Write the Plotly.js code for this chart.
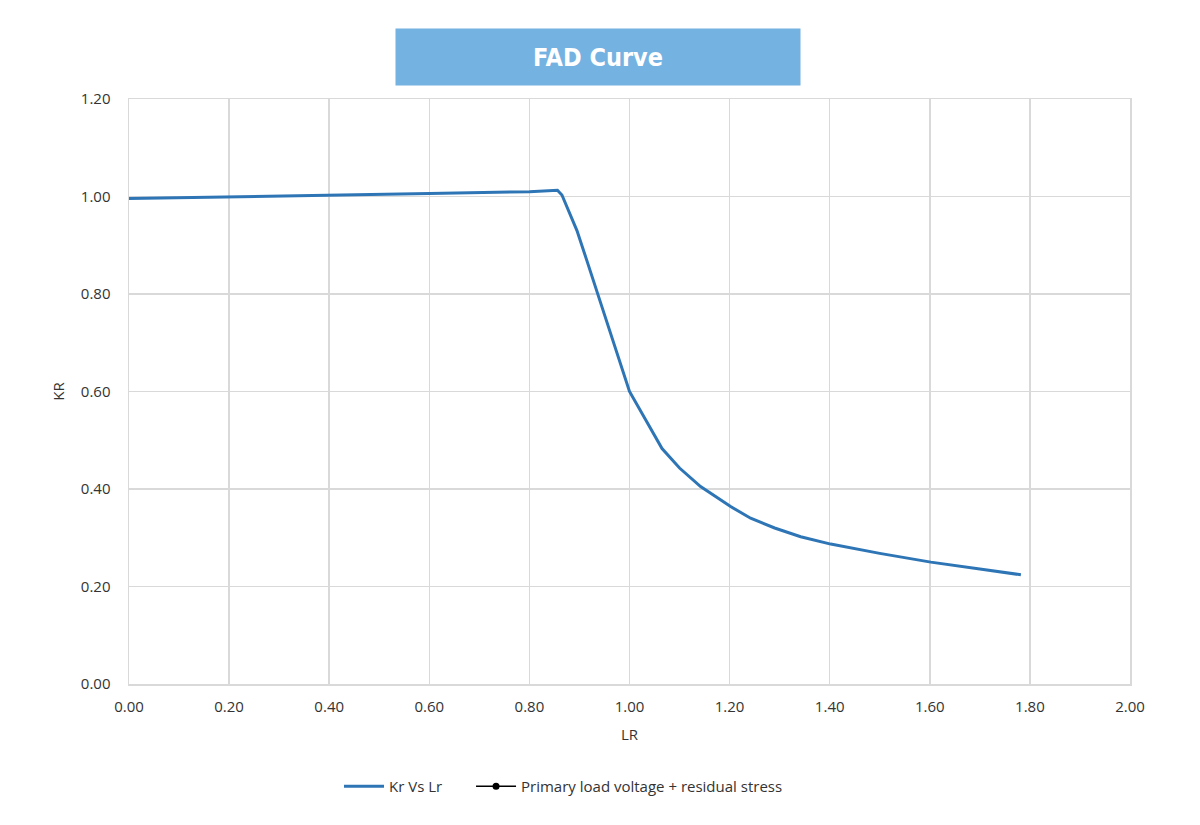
<!DOCTYPE html>
<html>
<head>
<meta charset="utf-8">
<script src="https://cdn.plot.ly/plotly-3.0.1.min.js"></script>
<style>
html,body{margin:0;padding:0;background:#fff;}
#chart{width:1200px;height:825px;}
#chart .annotation-text{font-stretch:condensed !important;}
</style>
</head>
<body>
<div id="chart"></div>
<script>
// Kr vs Lr curve
const lrValues = [0.00, 0.20, 0.40, 0.60, 0.80, 0.856, 0.865, 0.880, 0.895, 0.915, 0.935, 0.955, 0.975, 0.990, 1.000, 1.065, 1.100, 1.142, 1.170, 1.202, 1.242, 1.290, 1.342, 1.402, 1.500, 1.602, 1.700, 1.782];
const krValues = [0.996, 0.999, 1.002, 1.006, 1.010, 1.013, 1.003, 0.968, 0.930, 0.868, 0.805, 0.742, 0.678, 0.628, 0.600, 0.483, 0.443, 0.405, 0.386, 0.364, 0.340, 0.320, 0.302, 0.287, 0.268, 0.250, 0.236, 0.224];
// Second series appears only in the legend (no visible data)
const primaryX = [null];
const primaryY = [null];

const xTicks = [0, 0.2, 0.4, 0.6, 0.8, 1.0, 1.2, 1.4, 1.6, 1.8, 2.0];
const yTicks = [0, 0.2, 0.4, 0.6, 0.8, 1.0, 1.2];

const traces = [
  {x: lrValues, y: krValues, type: 'scatter', mode: 'lines', name: 'Kr Vs Lr',
   line: {color: '#2E75B6', width: 3}, legend: 'legend'},
  {x: primaryX, y: primaryY, type: 'scatter', mode: 'lines+markers', name: 'Primary load voltage + residual stress',
   line: {color: '#000000', width: 1.5}, marker: {color: '#000000', size: 7}, legend: 'legend2'}
];

const fontFam = '"Open Sans", "Noto Sans", sans-serif';
const legendFont = {size: 15, color: '#333333'};
const layout = {
  width: 1200, height: 825,
  margin: {l: 129, r: 70, t: 99, b: 141},
  paper_bgcolor: '#ffffff', plot_bgcolor: '#ffffff',
  font: {family: fontFam, size: 15, color: '#333333'},
  xaxis: {
    range: [0, 2], tickvals: xTicks, ticktext: xTicks.map(v => v.toFixed(2)),
    showgrid: true, gridcolor: '#d9d9d9', gridwidth: 1.5,
    showline: true, mirror: true, linecolor: '#d9d9d9', linewidth: 1.5,
    zeroline: false, ticks: 'outside', ticklen: 8, tickcolor: 'rgba(0,0,0,0)',
    title: {text: 'LR', font: {size: 15, color: '#333333'}, standoff: 15}
  },
  yaxis: {
    range: [0, 1.2], tickvals: yTicks, ticktext: yTicks.map(v => v.toFixed(2)),
    showgrid: true, gridcolor: '#d9d9d9', gridwidth: 1.5,
    showline: true, mirror: true, linecolor: '#d9d9d9', linewidth: 1.5,
    zeroline: false, ticks: 'outside', ticklen: 14, tickcolor: 'rgba(0,0,0,0)',
    title: {text: 'KR', font: {size: 15, color: '#333333'}, standoff: 12}
  },
  showlegend: true,
  legend: {orientation: 'h', x: 0.2098, xanchor: 'left', y: -0.175, yanchor: 'middle',
           font: legendFont, itemwidth: 40},
  legend2: {orientation: 'h', x: 0.3417, xanchor: 'left', y: -0.175, yanchor: 'middle',
           font: legendFont, itemwidth: 40},
  annotations: [{
    xref: 'paper', yref: 'paper', x: 0.4685, xanchor: 'center', y: 1.022, yanchor: 'bottom',
    text: '<b>FAD Curve</b>', showarrow: false,
    bgcolor: '#74B2E2', width: 402, height: 54,
    font: {family: '"DejaVu Sans Condensed", "DejaVu Sans", sans-serif', size: 25, color: '#ffffff'}
  }]
};

Plotly.newPlot('chart', traces, layout, {displayModeBar: false, staticPlot: true});
</script>
</body>
</html>
